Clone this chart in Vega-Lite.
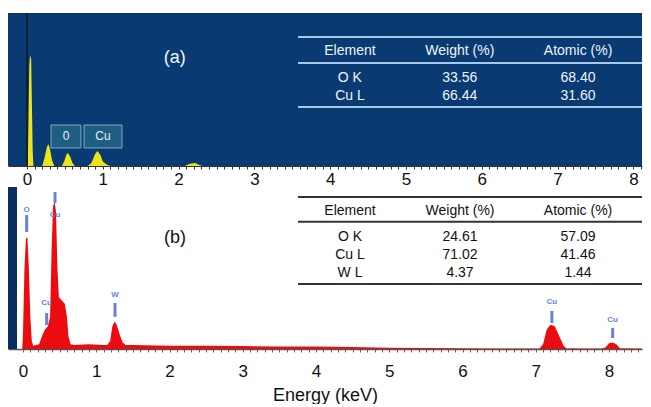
{
  "$schema": "https://vega.github.io/schema/vega-lite/v6.json",
  "background": "white",
  "padding": {"left": 8, "top": 12, "right": 9, "bottom": 0},
  "spacing": 0,
  "config": {"view": {"stroke": null}, "font": "Liberation Sans"},
  "resolve": {"scale": {"x": "independent", "y": "independent"}},
  "datasets": {
    "specA": [
      {"e": -0.25, "c": 0}, {"e": 0.01, "c": 0}, {"e": 0.02, "c": 30}, {"e": 0.03, "c": 65}, {"e": 0.04, "c": 72.5}, {"e": 0.055, "c": 70}, {"e": 0.065, "c": 40}, {"e": 0.075, "c": 10}, {"e": 0.085, "c": 0},
      {"e": 0.2, "c": 0}, {"e": 0.23, "c": 5}, {"e": 0.26, "c": 12}, {"e": 0.28, "c": 14.4}, {"e": 0.3, "c": 12}, {"e": 0.33, "c": 4}, {"e": 0.36, "c": 0},
      {"e": 0.46, "c": 0}, {"e": 0.49, "c": 3}, {"e": 0.52, "c": 7.5}, {"e": 0.54, "c": 8.5}, {"e": 0.57, "c": 6}, {"e": 0.6, "c": 2}, {"e": 0.63, "c": 0},
      {"e": 0.8, "c": 0}, {"e": 0.85, "c": 2}, {"e": 0.9, "c": 8}, {"e": 0.93, "c": 9.8}, {"e": 0.97, "c": 7}, {"e": 1.0, "c": 3}, {"e": 1.05, "c": 1}, {"e": 1.1, "c": 0},
      {"e": 2.08, "c": 0}, {"e": 2.15, "c": 1.5}, {"e": 2.22, "c": 2}, {"e": 2.28, "c": 0.5}, {"e": 2.32, "c": 0}, {"e": 8.11, "c": 0}
    ],
    "specB": [
      {"e": -0.01, "c": 0}, {"e": 0.0, "c": 10}, {"e": 0.02, "c": 50}, {"e": 0.04, "c": 68}, {"e": 0.06, "c": 69}, {"e": 0.08, "c": 50}, {"e": 0.1, "c": 20}, {"e": 0.12, "c": 5}, {"e": 0.14, "c": 2},
      {"e": 0.22, "c": 3}, {"e": 0.26, "c": 8}, {"e": 0.3, "c": 12}, {"e": 0.34, "c": 14}, {"e": 0.37, "c": 20}, {"e": 0.39, "c": 60}, {"e": 0.41, "c": 88}, {"e": 0.43, "c": 91}, {"e": 0.45, "c": 85}, {"e": 0.47, "c": 50}, {"e": 0.49, "c": 32}, {"e": 0.53, "c": 30}, {"e": 0.57, "c": 28}, {"e": 0.6, "c": 20}, {"e": 0.62, "c": 8}, {"e": 0.65, "c": 3}, {"e": 0.7, "c": 2.5},
      {"e": 0.9, "c": 3}, {"e": 1.1, "c": 2.5}, {"e": 1.15, "c": 2.5}, {"e": 1.19, "c": 5}, {"e": 1.22, "c": 14}, {"e": 1.25, "c": 17}, {"e": 1.28, "c": 15}, {"e": 1.32, "c": 9}, {"e": 1.36, "c": 4}, {"e": 1.4, "c": 2.5},
      {"e": 1.5, "c": 2.5}, {"e": 2.0, "c": 2}, {"e": 2.5, "c": 2}, {"e": 3.0, "c": 1.8}, {"e": 3.5, "c": 1.5}, {"e": 4.0, "c": 1.5}, {"e": 4.5, "c": 1.2}, {"e": 5.0, "c": 0.8}, {"e": 5.5, "c": 0.6}, {"e": 6.0, "c": 0.5}, {"e": 6.5, "c": 0.3}, {"e": 7.0, "c": 0.3},
      {"e": 7.05, "c": 0.3}, {"e": 7.1, "c": 3}, {"e": 7.15, "c": 12}, {"e": 7.2, "c": 15}, {"e": 7.26, "c": 14}, {"e": 7.32, "c": 8}, {"e": 7.38, "c": 2}, {"e": 7.42, "c": 0.3},
      {"e": 7.5, "c": 0.5}, {"e": 7.6, "c": 0.3}, {"e": 7.9, "c": 0.3}, {"e": 7.95, "c": 1}, {"e": 8.0, "c": 3.5}, {"e": 8.05, "c": 4}, {"e": 8.1, "c": 3}, {"e": 8.15, "c": 0.5}, {"e": 8.45, "c": 0.3}
    ],
    "linesA": [
      {"x1": 3.575, "x2": 8.1135, "y": 84.3},
      {"x1": 3.575, "x2": 8.1135, "y": 67.3},
      {"x1": 3.575, "x2": 8.1135, "y": 38.6}
    ],
    "textA": [
      {"x": 4.26, "y": 75.2, "t": "Element"},
      {"x": 5.71, "y": 75.2, "t": "Weight (%)"},
      {"x": 7.27, "y": 75.2, "t": "Atomic (%)"},
      {"x": 4.26, "y": 57.5, "t": "O K"},
      {"x": 5.71, "y": 57.5, "t": "33.56"},
      {"x": 7.27, "y": 57.5, "t": "68.40"},
      {"x": 4.26, "y": 45.8, "t": "Cu L"},
      {"x": 5.71, "y": 45.8, "t": "66.44"},
      {"x": 7.27, "y": 45.8, "t": "31.60"}
    ],
    "boxesA": [
      {"x1": 0.317, "x2": 0.712, "y1": 11.8, "y2": 26.8, "xm": 0.5145, "ym": 19.3, "t": "0"},
      {"x1": 0.752, "x2": 1.253, "y1": 11.8, "y2": 26.8, "xm": 1.0025, "ym": 19.3, "t": "Cu"}
    ],
    "linesB": [
      {"x1": 3.754, "x2": 8.4505, "y": 93.8},
      {"x1": 3.754, "x2": 8.4505, "y": 78.6},
      {"x1": 3.754, "x2": 8.4505, "y": 40.1}
    ],
    "textB": [
      {"x": 4.464, "y": 85.4, "t": "Element"},
      {"x": 5.966, "y": 85.4, "t": "Weight (%)"},
      {"x": 7.577, "y": 85.4, "t": "Atomic (%)"},
      {"x": 4.464, "y": 69, "t": "O K"},
      {"x": 5.966, "y": 69, "t": "24.61"},
      {"x": 7.577, "y": 69, "t": "57.09"},
      {"x": 4.464, "y": 58, "t": "Cu L"},
      {"x": 5.966, "y": 58, "t": "71.02"},
      {"x": 7.577, "y": 58, "t": "41.46"},
      {"x": 4.464, "y": 46.7, "t": "W L"},
      {"x": 5.966, "y": 46.7, "t": "4.37"},
      {"x": 7.577, "y": 46.7, "t": "1.44"}
    ],
    "markB": [
      {"x": 0.05, "ty": 85.8, "t": "O", "b1": 82.7, "b2": 72.2},
      {"x": 0.437, "ty": 82.7, "t": "Cu", "b1": 96.9, "b2": 90.1},
      {"x": 0.323, "ty": 28.2, "t": "Cu", "b1": 22.2, "b2": 14.8},
      {"x": 1.256, "ty": 33.3, "t": "W", "b1": 28.4, "b2": 19.8},
      {"x": 7.22, "ty": 29.2, "t": "Cu", "b1": 23.5, "b2": 16.0},
      {"x": 8.05, "ty": 17.9, "t": "Cu", "b1": 13.0, "b2": 6.8}
    ]
  },
  "vconcat": [
    {
      "width": 634,
      "height": 153,
      "view": {"fill": "#0a3a72", "stroke": null},
      "resolve": {"axis": {"x": "independent"}},
      "layer": [
        {
          "data": {"name": "specA"},
          "mark": {"type": "area", "color": "#ece51c"},
          "encoding": {
            "x": {"field": "e", "type": "quantitative",
              "scale": {"domain": [-0.2507, 8.1135], "nice": false, "zero": false},
              "axis": {
                "orient": "bottom",
                "title": null,
                "values": [0,0.1,0.2,0.3,0.4,0.5,0.6,0.7,0.8,0.9,1,1.1,1.2,1.3,1.4,1.5,1.6,1.7,1.8,1.9,2,2.1,2.2,2.3,2.4,2.5,2.6,2.7,2.8,2.9,3,3.1,3.2,3.3,3.4,3.5,3.6,3.7,3.8,3.9,4,4.1,4.2,4.3,4.4,4.5,4.6,4.7,4.8,4.9,5,5.1,5.2,5.3,5.4,5.5,5.6,5.7,5.8,5.9,6,6.1,6.2,6.3,6.4,6.5,6.6,6.7,6.8,6.9,7,7.1,7.2,7.3,7.4,7.5,7.6,7.7,7.8,7.9,8,8.1],
                "labels": false,
                "tickSize": 3,
                "tickColor": "#333",
                "domainColor": "#333",
                "grid": false
              }},
            "y": {"field": "c", "type": "quantitative", "scale": {"domain": [0, 100], "nice": false}, "axis": null}
          }
        },
        {
          "data": {"values": [{"x": 0}]},
          "mark": {"type": "rule", "color": "#151520", "strokeWidth": 1.5},
          "encoding": {"x": {"field": "x", "type": "quantitative",
            "axis": {
              "orient": "bottom",
              "title": null,
              "values": [0,1,2,3,4,5,6,7,8],
              "format": "d",
              "labelFontSize": 17,
              "labelColor": "#111",
              "labelPadding": 5,
              "labelOverlap": false,
              "ticks": false,
              "domain": false,
              "grid": false
            }}}
        },
        {
          "data": {"name": "linesA"},
          "mark": {"type": "rule", "color": "#a6c9ea", "strokeWidth": 2},
          "encoding": {
            "x": {"field": "x1", "type": "quantitative", "axis": null},
            "x2": {"field": "x2"},
            "y": {"field": "y", "type": "quantitative"}
          }
        },
        {
          "data": {"name": "textA"},
          "mark": {"type": "text", "color": "#eef4fa", "fontSize": 14, "align": "center", "baseline": "middle"},
          "encoding": {
            "x": {"field": "x", "type": "quantitative", "axis": null},
            "y": {"field": "y", "type": "quantitative"},
            "text": {"field": "t"}
          }
        },
        {
          "data": {"name": "boxesA"},
          "mark": {"type": "rect", "fill": "#1e5e80", "stroke": "#7fa9c4", "strokeWidth": 1},
          "encoding": {
            "x": {"field": "x1", "type": "quantitative", "axis": null},
            "x2": {"field": "x2"},
            "y": {"field": "y1", "type": "quantitative"},
            "y2": {"field": "y2"}
          }
        },
        {
          "data": {"name": "boxesA"},
          "mark": {"type": "text", "color": "#e8f0f6", "fontSize": 12, "align": "center", "baseline": "middle"},
          "encoding": {
            "x": {"field": "xm", "type": "quantitative", "axis": null},
            "y": {"field": "ym", "type": "quantitative"},
            "text": {"field": "t"}
          }
        },
        {
          "data": {"values": [{"x": 1.95, "y": 70.6, "t": "(a)"}]},
          "mark": {"type": "text", "color": "#f2f6fa", "fontSize": 18, "align": "center", "baseline": "middle"},
          "encoding": {
            "x": {"field": "x", "type": "quantitative", "axis": null},
            "y": {"field": "y", "type": "quantitative"},
            "text": {"field": "t"}
          }
        }
      ]
    },
    {
      "width": 634,
      "height": 162,
      "view": {"fill": "white", "stroke": null},
      "resolve": {"axis": {"x": "independent"}},
      "layer": [
        {
          "data": {"values": [{"x1": -0.2048, "x2": -0.082, "y1": 0, "y2": 100}]},
          "mark": {"type": "rect", "fill": "#0b2e5e"},
          "encoding": {
            "x": {"field": "x1", "type": "quantitative",
              "scale": {"domain": [-0.2048, 8.4505], "nice": false, "zero": false},
              "axis": {
                "orient": "bottom",
                "title": null,
                "values": [0,0.1,0.2,0.3,0.4,0.5,0.6,0.7,0.8,0.9,1,1.1,1.2,1.3,1.4,1.5,1.6,1.7,1.8,1.9,2,2.1,2.2,2.3,2.4,2.5,2.6,2.7,2.8,2.9,3,3.1,3.2,3.3,3.4,3.5,3.6,3.7,3.8,3.9,4,4.1,4.2,4.3,4.4,4.5,4.6,4.7,4.8,4.9,5,5.1,5.2,5.3,5.4,5.5,5.6,5.7,5.8,5.9,6,6.1,6.2,6.3,6.4,6.5,6.6,6.7,6.8,6.9,7,7.1,7.2,7.3,7.4,7.5,7.6,7.7,7.8,7.9,8,8.1,8.2,8.3,8.4],
                "labels": false,
                "tickSize": 3,
                "tickColor": "#666",
                "domainColor": "#555",
                "domainWidth": 1.5,
                "grid": false
              }},
            "x2": {"field": "x2"},
            "y": {"field": "y1", "type": "quantitative", "scale": {"domain": [0, 100], "nice": false}, "axis": null},
            "y2": {"field": "y2"}
          }
        },
        {
          "data": {"name": "specB"},
          "mark": {"type": "area", "color": "#ec0c10"},
          "encoding": {
            "x": {"field": "e", "type": "quantitative",
              "axis": {
                "orient": "bottom",
                "title": "Energy (keV)",
                "titleFontSize": 18,
                "titleFontWeight": "normal",
                "titleColor": "#111",
                "titlePadding": 7,
                "values": [0,1,2,3,4,5,6,7,8],
                "format": "d",
                "labelFontSize": 17,
                "labelColor": "#111",
                "labelPadding": 14,
                "labelOverlap": false,
                "ticks": false,
                "domain": false,
                "grid": false
              }},
            "y": {"field": "c", "type": "quantitative"}
          }
        },
        {
          "data": {"name": "linesB"},
          "mark": {"type": "rule", "color": "#333333", "strokeWidth": 2},
          "encoding": {
            "x": {"field": "x1", "type": "quantitative", "axis": null},
            "x2": {"field": "x2"},
            "y": {"field": "y", "type": "quantitative"}
          }
        },
        {
          "data": {"name": "textB"},
          "mark": {"type": "text", "color": "#111", "fontSize": 14, "align": "center", "baseline": "middle"},
          "encoding": {
            "x": {"field": "x", "type": "quantitative", "axis": null},
            "y": {"field": "y", "type": "quantitative"},
            "text": {"field": "t"}
          }
        },
        {
          "data": {"name": "markB"},
          "mark": {"type": "rule", "color": "#6a7fe0", "strokeWidth": 3},
          "encoding": {
            "x": {"field": "x", "type": "quantitative", "axis": null},
            "y": {"field": "b1", "type": "quantitative"},
            "y2": {"field": "b2"}
          }
        },
        {
          "data": {"name": "markB"},
          "mark": {"type": "text", "color": "#6a7fe0", "fontSize": 8, "fontWeight": "bold", "align": "center", "baseline": "middle"},
          "encoding": {
            "x": {"field": "x", "type": "quantitative", "axis": null},
            "y": {"field": "ty", "type": "quantitative"},
            "text": {"field": "t"}
          }
        },
        {
          "data": {"values": [{"x": 2.075, "y": 68.3, "t": "(b)"}]},
          "mark": {"type": "text", "color": "#111", "fontSize": 18, "align": "center", "baseline": "middle"},
          "encoding": {
            "x": {"field": "x", "type": "quantitative", "axis": null},
            "y": {"field": "y", "type": "quantitative"},
            "text": {"field": "t"}
          }
        }
      ]
    }
  ]
}
